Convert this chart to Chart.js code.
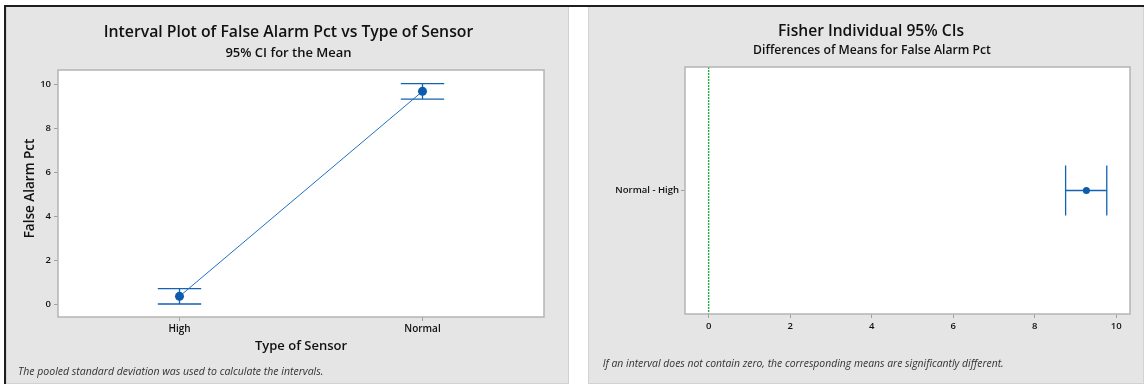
<!DOCTYPE html>
<html>
<head>
<meta charset="utf-8">
<script src="https://cdn.jsdelivr.net/npm/chart.js@4.4.1/dist/chart.umd.min.js"></script>
<style>
  html, body { margin:0; padding:0; background:#ffffff; width:1144px; height:384px; overflow:hidden; }
  .bk { position:absolute; background:#1e1e1e; }
  .panel { position:absolute; background:#e5e5e5; box-sizing:border-box; border-right:1px solid #d2d2d2; border-bottom:1px solid #d2d2d2; }
  canvas { position:absolute; left:0; top:0; }
</style>
</head>
<body>
<div class="bk" style="left:4px;top:5px;width:1140px;height:2px;"></div>
<div class="bk" style="left:4px;top:5px;width:2px;height:379px;"></div>
<div class="panel" style="left:6px;top:7px;width:563px;height:377px;border-left:1px solid #d2d2d2;">
  <canvas id="c1" width="561" height="377" style="width:561px;height:377px;left:1px;"></canvas>
</div>
<div class="panel" style="left:588px;top:7px;width:556px;height:377px;border-left:1px solid #d2d2d2;">
  <canvas id="c2" width="556" height="377" style="width:556px;height:377px;"></canvas>
</div>
<script>
// ---- data: interval plot ----
const categories = ['High', 'Normal'];
const means = [0.35, 9.67];
const ciLower = [0.00, 9.32];
const ciUpper = [0.70, 10.02];
const yTicks = [0, 2, 4, 6, 8, 10];

// ---- data: Fisher individual CIs ----
const diffLabels = ['Normal - High'];
const diffMeans = [9.27];
const diffLower = [8.76];
const diffUpper = [9.77];
const diffTicks = [0, 2, 4, 6, 8, 10];
const refValues = [0];

const FONT = "'Open Sans', 'Noto Sans', sans-serif";
const BLUE = '#0b5cad';

function plotFrame(id) {
  return {
    id: id,
    beforeDraw(chart) {
      const a = chart.chartArea, ctx = chart.ctx;
      ctx.save();
      ctx.fillStyle = '#ffffff';
      ctx.fillRect(a.left, a.top, a.right - a.left, a.bottom - a.top);
      ctx.restore();
    },
    afterDraw(chart) {
      const a = chart.chartArea, ctx = chart.ctx;
      ctx.save();
      ctx.strokeStyle = '#b4b4b4';
      ctx.lineWidth = 1.5;
      ctx.strokeRect(a.left, a.top, a.right - a.left, a.bottom - a.top);
      ctx.restore();
    }
  };
}

function texts(items) {
  return {
    id: 'texts',
    afterDraw(chart) {
      const ctx = chart.ctx;
      items.forEach(t => {
        ctx.save();
        ctx.font = t.font;
        ctx.fillStyle = t.color || '#111';
        ctx.textAlign = t.align || 'center';
        ctx.textBaseline = 'middle';
        ctx.translate(t.x, t.y);
        if (t.rot) ctx.rotate(t.rot);
        ctx.fillText(t.text, 0, 0);
        ctx.restore();
      });
    }
  };
}

// ---------- Chart 1 ----------
const ciBars1 = {
  id: 'ciBars1',
  beforeDatasetsDraw(chart) {
    const ctx = chart.ctx, xs = chart.scales.x, ys = chart.scales.y;
    ctx.save();
    ctx.strokeStyle = '#1462b4';
    ctx.lineWidth = 1.3;
    categories.forEach((c, i) => {
      const x = xs.getPixelForValue(i);
      const yl = ys.getPixelForValue(ciLower[i]);
      const yu = ys.getPixelForValue(ciUpper[i]);
      ctx.beginPath();
      ctx.moveTo(x, yl); ctx.lineTo(x, yu);
      ctx.moveTo(x - 21.7, yl); ctx.lineTo(x + 21.7, yl);
      ctx.moveTo(x - 21.7, yu); ctx.lineTo(x + 21.7, yu);
      ctx.stroke();
    });
    ctx.restore();
  }
};

new Chart(document.getElementById('c1'), {
  type: 'line',
  data: {
    labels: categories,
    datasets: [{
      data: means,
      borderColor: '#2070c4',
      borderWidth: 1,
      pointRadius: 4.5,
      pointBackgroundColor: BLUE,
      pointBorderWidth: 0,
      fill: false,
      tension: 0
    }]
  },
  options: {
    responsive: false,
    animation: false,
    layout: { padding: { top: 63, right: 25, bottom: 0, left: 0 } },
    plugins: { legend: { display: false }, tooltip: { enabled: false }, title: { display: false } },
    scales: {
      x: {
        type: 'category',
        offset: true,
        afterFit(s) { s.height = 67; },
        grid: { drawOnChartArea: false, drawTicks: true, tickLength: 4, color: '#a0a0a0', offset: false },
        border: { display: false },
        ticks: { padding: 2, color: '#111', font: { family: FONT, size: 10, weight: '600' } }
      },
      y: {
        type: 'linear',
        min: -0.59,
        max: 10.64,
        afterFit(s) { s.width = 50; },
        afterBuildTicks(s) { s.ticks = yTicks.map(v => ({ value: v })); },
        grid: { drawOnChartArea: false, drawTicks: true, tickLength: 4, color: '#a0a0a0' },
        border: { display: false },
        ticks: { padding: 3, color: '#111', font: { family: FONT, size: 9.5, weight: '600' } }
      }
    }
  },
  plugins: [plotFrame('frame1'), ciBars1, texts([
    { text: 'Interval Plot of False Alarm Pct vs Type of Sensor', x: 280.5, y: 25, font: "600 15.8px " + FONT },
    { text: '95% CI for the Mean', x: 280.5, y: 46, font: "600 13px " + FONT },
    { text: 'False Alarm Pct', x: 22, y: 181.5, rot: -Math.PI / 2, font: "600 13.5px " + FONT },
    { text: 'Type of Sensor', x: 293, y: 339.7, font: "600 13px " + FONT },
    { text: 'The pooled standard deviation was used to calculate the intervals.', x: 10, y: 364.7, align: 'left', font: "italic 10.5px " + FONT, color: '#333' }
  ])]
});

// ---------- Chart 2 ----------
const ciBars2 = {
  id: 'ciBars2',
  beforeDatasetsDraw(chart) {
    const ctx = chart.ctx, xs = chart.scales.x, ys = chart.scales.y;
    const a = chart.chartArea;
    ctx.save();
    // reference line at zero
    ctx.strokeStyle = '#1fb040';
    ctx.lineWidth = 1.4;
    ctx.setLineDash([2, 1]);
    refValues.forEach(v => {
      const x = xs.getPixelForValue(v);
      ctx.beginPath(); ctx.moveTo(x, a.top); ctx.lineTo(x, a.bottom); ctx.stroke();
    });
    ctx.setLineDash([]);
    ctx.strokeStyle = '#1462b4';
    ctx.lineWidth = 1.3;
    diffLabels.forEach((c, i) => {
      const y = ys.getPixelForValue(i);
      const xl = xs.getPixelForValue(diffLower[i]);
      const xu = xs.getPixelForValue(diffUpper[i]);
      ctx.beginPath();
      ctx.moveTo(xl, y); ctx.lineTo(xu, y);
      ctx.moveTo(xl, y - 25); ctx.lineTo(xl, y + 25);
      ctx.moveTo(xu, y - 25); ctx.lineTo(xu, y + 25);
      ctx.stroke();
    });
    ctx.restore();
  }
};

new Chart(document.getElementById('c2'), {
  type: 'line',
  data: {
    labels: diffLabels,
    datasets: [{
      data: diffMeans,
      showLine: false,
      pointRadius: 3.5,
      pointBackgroundColor: BLUE,
      pointBorderWidth: 0
    }]
  },
  options: {
    indexAxis: 'y',
    responsive: false,
    animation: false,
    layout: { padding: { top: 60, right: 15, bottom: 0, left: 0 } },
    plugins: { legend: { display: false }, tooltip: { enabled: false }, title: { display: false } },
    scales: {
      x: {
        type: 'linear',
        min: -0.58,
        max: 10.34,
        afterFit(s) { s.height = 70; },
        afterBuildTicks(s) { s.ticks = diffTicks.map(v => ({ value: v })); },
        grid: { drawOnChartArea: false, drawTicks: true, tickLength: 4, color: '#a0a0a0' },
        border: { display: false },
        ticks: { padding: 3, color: '#111', font: { family: FONT, size: 9.5, weight: '600' } }
      },
      y: {
        type: 'category',
        offset: true,
        afterFit(s) { s.width = 96; },
        grid: { drawOnChartArea: false, drawTicks: true, tickLength: 4, color: '#a0a0a0', offset: false },
        border: { display: false },
        ticks: { padding: 2, color: '#111', font: { family: FONT, size: 9.5, weight: '600' } }
      }
    }
  },
  plugins: [plotFrame('frame2'), ciBars2, texts([
    { text: 'Fisher Individual 95% CIs', x: 282, y: 25, font: "600 15.6px " + FONT },
    { text: 'Differences of Means for False Alarm Pct', x: 283, y: 44, font: "600 12.2px " + FONT },
    { text: 'If an interval does not contain zero, the corresponding means are significantly different.', x: 13.7, y: 357.3, align: 'left', font: "italic 10.4px " + FONT, color: '#333' }
  ])]
});
</script>
</body>
</html>
